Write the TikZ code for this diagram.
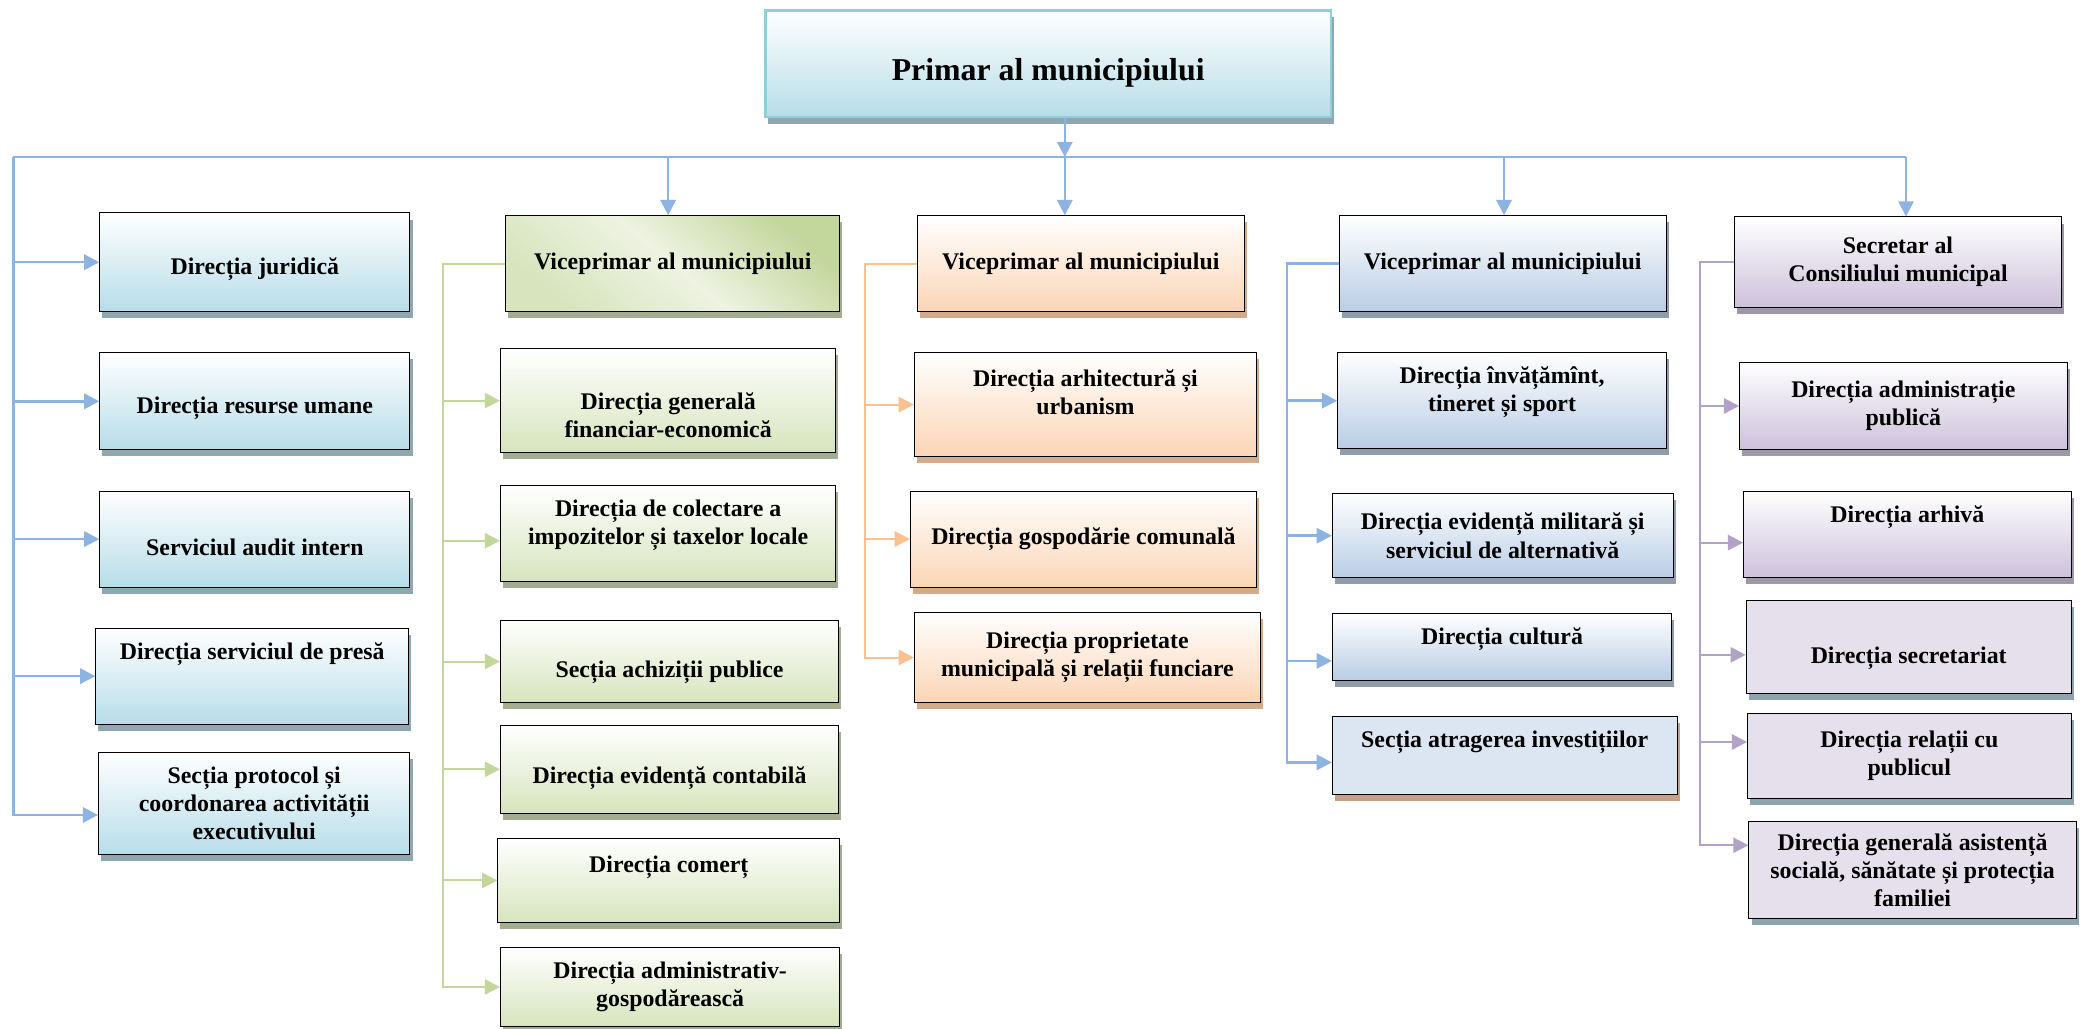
\documentclass[tikz,border=0pt]{standalone}
\usepackage{fontspec}
\setmainfont{Liberation Serif}
\usepackage{tikz}
\usetikzlibrary{arrows.meta,shadows}
\usepackage{xcolor}
\definecolor{tealfill}{HTML}{B7DDE8}
\definecolor{tealedge}{HTML}{92CDDC}
\definecolor{tealshade}{HTML}{8FA7B0}
\definecolor{greenfill}{HTML}{D7E4BD}
\definecolor{greendark}{HTML}{C3D69B}
\definecolor{greenlight}{HTML}{EEF3E2}
\definecolor{greenshade}{HTML}{A4AD92}
\definecolor{orangefill}{HTML}{FBD5B5}
\definecolor{orangeshade}{HTML}{D2AA8C}
\definecolor{bluefill}{HTML}{B9CDE5}
\definecolor{bluepale}{HTML}{DCE6F2}
\definecolor{blueshade}{HTML}{8E9CAC}
\definecolor{brownshade}{HTML}{C9A083}
\definecolor{purplefill}{HTML}{CCC1DA}
\definecolor{purplepale}{HTML}{E5E0EC}
\definecolor{purpleshade}{HTML}{9E97AA}
\definecolor{greyteal}{HTML}{8EA4AD}
\definecolor{linkblue}{HTML}{8DB3E2}
\definecolor{linkgreen}{HTML}{C3D69B}
\definecolor{linkorange}{HTML}{FAC090}
\definecolor{linkpurple}{HTML}{B3A2C7}
\newcommand{\padabove}[1]{\rule{0pt}{#1}}
\newcommand{\padbelow}[1]{\rule[-#1]{0pt}{#1}}
\tikzset{
  boxsize/.style 2 args={minimum width=#1*0.2mm,minimum height=#2*0.2mm},
  castshadow/.style={drop shadow={opacity=1,fill=#1,shadow xshift=1.1pt,shadow yshift=-2.8pt}},
  box/.style={draw=black,line width=0.4pt,inner sep=2pt,align=center,
    font=\fontsize{10.2}{12}\selectfont\bfseries},
  titlebox/.style={box,draw=tealedge,line width=1pt,castshadow=tealshade,
    top color=white,bottom color=tealfill,font=\fontsize{13.6}{16}\selectfont\bfseries},
  tealbox/.style={box,castshadow=tealshade,top color=white,bottom color=tealfill},
  greenbox/.style={box,castshadow=greenshade,top color=white,bottom color=greenfill},
  vicegreen/.style={box,castshadow=greenshade,top color=greendark,bottom color=greenfill,
    middle color=greenlight,shading angle=-40},
  orangebox/.style={box,castshadow=orangeshade,top color=white,bottom color=orangefill},
  bluebox/.style={box,castshadow=blueshade,top color=white,bottom color=bluefill},
  bluepalebox/.style={box,castshadow=brownshade,fill=bluepale},
  purplebox/.style={box,castshadow=purpleshade,top color=white,bottom color=purplefill},
  purplepalebox/.style={box,castshadow=greyteal,fill=purplepale},
  bline/.style={draw=linkblue,line width=1.1pt},
  gline/.style={draw=linkgreen,line width=0.85pt},
  oline/.style={draw=linkorange,line width=0.85pt},
  pline/.style={draw=linkpurple,line width=0.9pt}
}
\tikzstyle{link} = [-{Triangle[length=6.5pt,width=6.5pt]}]

\begin{document}
\begin{tikzpicture}[x=0.2mm,y=-0.2mm]
  \path[fill=white,use as bounding box] (0,0) rectangle (1568,773);

  \node[titlebox,boxsize={425}{80}] (primar) at (787.5,48) {\padabove{17pt}Primar al municipiului};

  % aparatul primarului
  \node[tealbox,boxsize={233}{74}] (juridica) at (191.5,197) {\padabove{13pt}Direcția juridică};
  \node[tealbox,boxsize={233}{73}] (resurse) at (191.5,301.5) {\padabove{13pt}Direcția resurse umane};
  \node[tealbox,boxsize={233}{72}] (audit) at (191.5,405) {\padabove{14pt}Serviciul audit intern};
  \node[tealbox,boxsize={235}{72}] (presa) at (189.5,508) {Direcția serviciul de presă\padbelow{21.5pt}};
  \node[tealbox,boxsize={234}{77}] (protocol) at (191,603.5) {Secția protocol și\\coordonarea activității\\executivului};

  % viceprimar 1
  \node[vicegreen,boxsize={251}{72}] (vice1) at (505.5,198) {Viceprimar al municipiului};
  \node[greenbox,boxsize={252}{78}] (financiar) at (502,301) {\padabove{19.4pt}Direcția generală\\financiar-economică};
  \node[greenbox,boxsize={252}{72}] (colectare) at (502,401) {Direcția de colectare a\\impozitelor și taxelor locale\padbelow{9.6pt}};
  \node[greenbox,boxsize={254}{62}] (achizitii) at (503,497) {\padabove{16pt}Secția achiziții publice};
  \node[greenbox,boxsize={254}{66}] (contabila) at (503,578) {\padabove{14.8pt}Direcția evidență contabilă};
  \node[greenbox,boxsize={257}{63}] (comert) at (502.5,661.5) {Direcția comerț\padbelow{14.2pt}};
  \node[greenbox,boxsize={255}{59}] (admgosp) at (503.5,741.5) {Direcția administrativ-\\gospodărească};

  % viceprimar 2
  \node[orangebox,boxsize={246}{72}] (vice2) at (812,198) {Viceprimar al municipiului};
  \node[orangebox,boxsize={257}{78}] (arhitectura) at (815.5,304) {Direcția arhitectură și\\urbanism\padbelow{10.8pt}};
  \node[orangebox,boxsize={260}{72}] (gospodarie) at (814,405) {Direcția gospodărie comunală};
  \node[orangebox,boxsize={260}{68}] (proprietate) at (817,494) {Direcția proprietate\\municipală și relații funciare};

  % viceprimar 3
  \node[bluebox,boxsize={246}{72}] (vice3) at (1129,198) {Viceprimar al municipiului};
  \node[bluebox,boxsize={247}{72}] (invatamint) at (1128.5,301) {Direcția învățămînt,\\tineret și sport\padbelow{9.6pt}};
  \node[bluebox,boxsize={256}{63}] (militara) at (1129,402.5) {Direcția evidență militară și\\serviciul de alternativă};
  \node[bluebox,boxsize={255}{50}] (cultura) at (1128.5,486) {Direcția cultură\padbelow{9pt}};
  \node[bluepalebox,boxsize={259}{59}] (atragerea) at (1130.5,567.5) {Secția atragerea investițiilor\padbelow{14.2pt}};

  % secretar
  \node[purplebox,boxsize={246}{68}] (secretar) at (1426,197) {Secretar al\\Consiliului municipal};
  \node[purplebox,boxsize={246}{66}] (administratie) at (1430,305) {Direcția administrație\\publică};
  \node[purplebox,boxsize={246}{65}] (arhiva) at (1433,401.5) {Direcția arhivă\padbelow{17.6pt}};
  \node[purplepalebox,boxsize={244}{70}] (secretariat) at (1434,486) {\padabove{17pt}Direcția secretariat};
  \node[purplepalebox,boxsize={243}{64}] (relatii) at (1434.5,568) {Direcția relații cu\\publicul};
  \node[purplepalebox,boxsize={246}{73}] (asistenta) at (1437,653.5) {Direcția generală asistență\\socială, sănătate și protecția\\familiei};

  % magistrala
  \coordinate (busL) at (10,118);
  \coordinate (busA) at (502,118);
  \coordinate (busB) at (800,118);
  \coordinate (busC) at (1130,118);
  \coordinate (busR) at (1432,118);
  \draw[bline] (busL) -- (busR);
  \draw[bline,link] (busB |- primar.south) -- (busB);
  \draw[bline,link] (busA) -- (busA |- vice1.north);
  \draw[bline,link] (busB) -- (busB |- vice2.north);
  \draw[bline,link] (busC) -- (busC |- vice3.north);
  \draw[bline,link] (busR) -- (busR |- secretar.north);

  \draw[bline,link] (busL) |- ([yshift=-5pt]protocol.west);
  \draw[bline,link] (busL |- juridica.west) -- (juridica.west);
  \draw[bline,link] (busL |- resurse.west) -- (resurse.west);
  \draw[bline,link] (busL |- audit.west) -- (audit.west);
  \draw[bline,link] (busL |- presa.west) -- (presa.west);

  \coordinate (gA) at (333,198);
  \draw[gline,link] (vice1.west) -- (gA) |- (admgosp.west);
  \draw[gline,link] (gA |- financiar.west) -- (financiar.west);
  \draw[gline,link] ([yshift=-3pt]gA |- colectare.west) -- ([yshift=-3pt]colectare.west);
  \draw[gline,link] (gA |- achizitii.west) -- (achizitii.west);
  \draw[gline,link] (gA |- contabila.west) -- (contabila.west);
  \draw[gline,link] (gA |- comert.west) -- (comert.west);

  \coordinate (oA) at (650,198);
  \draw[oline,link] (vice2.west) -- (oA) |- (proprietate.west);
  \draw[oline,link] (oA |- arhitectura.west) -- (arhitectura.west);
  \draw[oline,link] (oA |- gospodarie.west) -- (gospodarie.west);

  \coordinate (cA) at (967,198);
  \draw[bline,link] (vice3.west) -- (cA) |- ([yshift=-3pt]atragerea.west);
  \draw[bline,link] (cA |- invatamint.west) -- (invatamint.west);
  \draw[bline,link] (cA |- militara.west) -- (militara.west);
  \draw[bline,link] ([yshift=-6pt]cA |- cultura.west) -- ([yshift=-6pt]cultura.west);

  \coordinate (pA) at (1277,197);
  \draw[pline,link] (secretar.west) -- (pA) |- ([yshift=10.5pt]asistenta.west);
  \draw[pline,link] (pA |- administratie.west) -- (administratie.west);
  \draw[pline,link] ([yshift=-3.5pt]pA |- arhiva.west) -- ([yshift=-3.5pt]arhiva.west);
  \draw[pline,link] ([yshift=-3.4pt]pA |- secretariat.west) -- ([yshift=-3.4pt]secretariat.west);
  \draw[pline,link] ([yshift=6pt]pA |- relatii.west) -- ([yshift=6pt]relatii.west);
\end{tikzpicture}
\end{document}
